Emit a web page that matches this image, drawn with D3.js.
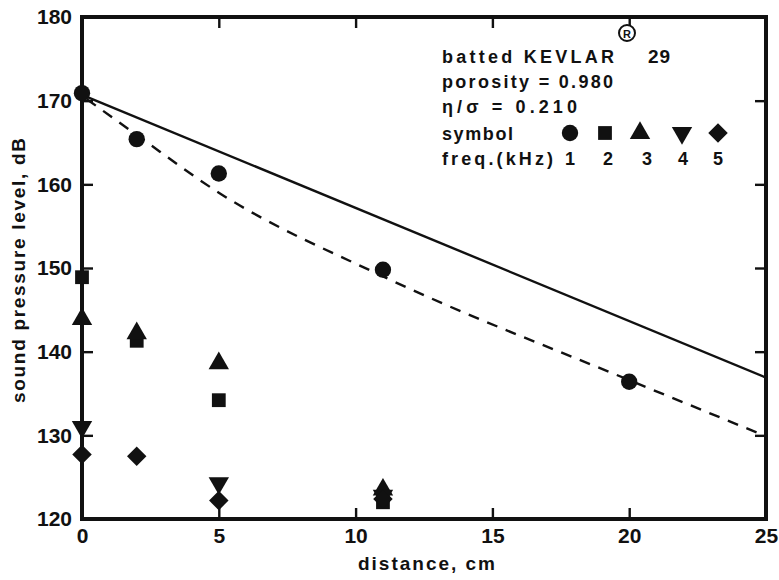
<!DOCTYPE html>
<html>
<head>
<meta charset="utf-8">
<script src="https://cdn.jsdelivr.net/npm/d3@7"></script>
<style>
  body { margin: 0; background: #fff; }
  text { font-family: "Liberation Sans", Arial, sans-serif; font-weight: bold; fill: #111; }
</style>
</head>
<body>
<div id="chart"></div>
<script>
// data
const xTicks = [0, 5, 10, 15, 20, 25];
const yTicks = [120, 130, 140, 150, 160, 170, 180];

const dist1 = [0, 2, 5, 11, 20];
const spl1 = [170.9, 165.4, 161.3, 149.8, 136.4];   // 1 kHz circles
const dist2 = [0, 2, 5, 11];
const spl2 = [148.9, 141.3, 134.2, 122.0];          // 2 kHz squares
const dist3 = [0, 2, 5, 11];
const spl3 = [143.9, 142.2, 138.6, 123.5];          // 3 kHz triangles
const dist4 = [0, 5, 11];
const spl4 = [131.0, 124.3, 122.8];                 // 4 kHz down triangles
const dist5 = [0, 2, 5, 11];
const spl5 = [127.7, 127.5, 122.2, 122.4];          // 5 kHz diamonds

// theory curves
const solidX = [0, 25];
const solidY = [170.7, 136.9];
const dashX = [0, 2, 5, 11, 20, 25];
const dashY = [170.6, 165.9, 159.0, 149.0, 136.6, 129.9];

const legendLines = ["batted KEVLAR", "porosity = 0.980", "\u03B7/\u03C3 = 0.210", "symbol", "freq.(kHz)"];
const freqLabels = ["1", "2", "3", "4", "5"];

// set the dimensions and margins of the graph
const W = 779, H = 580;
const margin = { top: 17, right: 13, bottom: 61, left: 82 };
const width = W - margin.left - margin.right;
const height = H - margin.top - margin.bottom;

const svg = d3.select("#chart").append("svg")
  .attr("width", W).attr("height", H)
  .append("g")
  .attr("transform", `translate(${margin.left},${margin.top})`);

const x = d3.scaleLinear().domain([0, 25]).range([0, width]);
const y = d3.scaleLinear().domain([120, 180]).range([height, 0]);

// axes with inward ticks
const tickLen = 11;
const bottomAx = svg.append("g").attr("transform", `translate(0,${height})`)
  .call(d3.axisBottom(x).tickValues(xTicks).tickSize(-tickLen).tickPadding(9));
const leftAx = svg.append("g")
  .call(d3.axisLeft(y).tickValues(yTicks).tickSize(-tickLen).tickPadding(10));
const topAx = svg.append("g")
  .call(d3.axisTop(x).tickValues([5, 10, 15, 20]).tickSize(-tickLen).tickFormat(""));
const rightAx = svg.append("g").attr("transform", `translate(${width},0)`)
  .call(d3.axisRight(y).tickValues([130, 140, 150, 160, 170]).tickSize(-tickLen).tickFormat(""));

[bottomAx, leftAx, topAx, rightAx].forEach(g => {
  g.select(".domain").remove();
  g.selectAll(".tick line").attr("stroke", "#111").attr("stroke-width", 2.4);
  g.selectAll(".tick text")
    .style("font-family", '"Liberation Sans", Arial, sans-serif')
    .style("font-weight", "bold")
    .style("font-size", "21px")
    .attr("fill", "#111");
});

// frame
svg.append("rect")
  .attr("x", 0).attr("y", 0).attr("width", width).attr("height", height)
  .attr("fill", "none").attr("stroke", "#111").attr("stroke-width", 4);

// axis labels (stretched to the width of the original lettering)
svg.append("text")
  .attr("x", 276).attr("y", height + 51)
  .attr("textLength", 137).attr("lengthAdjust", "spacing")
  .style("font-size", "19px")
  .text("distance, cm");

svg.append("text")
  .attr("transform", `translate(${-57},${386}) rotate(-90)`)
  .attr("textLength", 265).attr("lengthAdjust", "spacing")
  .style("font-size", "19px")
  .text("sound pressure level, dB");

// lines
const solid = d3.line().x(d => x(d[0])).y(d => y(d[1]));
const dashed = d3.line().x(d => x(d[0])).y(d => y(d[1])).curve(d3.curveMonotoneX);
svg.append("path")
  .datum(d3.zip(solidX, solidY))
  .attr("d", solid).attr("fill", "none").attr("stroke", "#111").attr("stroke-width", 2.4);
svg.append("path")
  .datum(d3.zip(dashX, dashY))
  .attr("d", dashed).attr("fill", "none").attr("stroke", "#111").attr("stroke-width", 2.4)
  .attr("stroke-dasharray", "11,9").attr("stroke-dashoffset", -6);

// markers
const shapes = [
  { xs: dist1, ys: spl1, type: d3.symbolCircle, size: 210, rot: 0 },
  { xs: dist2, ys: spl2, type: d3.symbolSquare, size: 190, rot: 0 },
  { xs: dist3, ys: spl3, type: d3.symbolTriangle, size: 180, rot: 0 },
  { xs: dist4, ys: spl4, type: d3.symbolTriangle, size: 180, rot: 180 },
  { xs: dist5, ys: spl5, type: d3.symbolSquare, size: 190, rot: 45 }
];

shapes.forEach(s => {
  svg.append("g").selectAll("path")
    .data(d3.zip(s.xs, s.ys))
    .enter().append("path")
    .attr("d", d3.symbol().type(s.type).size(s.size))
    .attr("transform", d => `translate(${x(d[0])},${y(d[1])}) rotate(${s.rot})`)
    .attr("fill", "#111");
});

// legend block
const lg = svg.append("g").attr("transform", "translate(360,0)");
const lineY = [46, 71, 96, 123, 148];
const lineLen = [172, 171, 135, 71, 111];
lg.selectAll("text.lg")
  .data(legendLines)
  .enter().append("text")
  .attr("class", "lg")
  .attr("x", 0).attr("y", (d, i) => lineY[i])
  .attr("textLength", (d, i) => lineLen[i]).attr("lengthAdjust", "spacing")
  .style("font-size", "18px")
  .text(d => d);

// registered mark and grade
lg.append("circle").attr("cx", 185).attr("cy", 16).attr("r", 8)
  .attr("fill", "#fff").attr("stroke", "#111").attr("stroke-width", 2);
lg.append("text").attr("x", 185).attr("y", 20.5).attr("text-anchor", "middle")
  .style("font-size", "11px").text("R");
lg.append("text").attr("x", 206).attr("y", lineY[0]).style("font-size", "19px")
  .style("letter-spacing", "1px").text("29");

const legX = [128, 163, 198, 240, 276];
const freqX = [128, 166, 205, 241, 276];
lg.selectAll("path.sym")
  .data(shapes)
  .enter().append("path")
  .attr("class", "sym")
  .attr("d", s => d3.symbol().type(s.type).size(s.size)())
  .attr("transform", (s, i) => `translate(${legX[i]},${lineY[3] - 7}) rotate(${s.rot})`)
  .attr("fill", "#111");

lg.selectAll("text.fq")
  .data(freqLabels)
  .enter().append("text")
  .attr("class", "fq")
  .attr("x", (d, i) => freqX[i]).attr("y", lineY[4])
  .attr("text-anchor", "middle")
  .style("font-size", "18px")
  .text(d => d);
</script>
</body>
</html>
